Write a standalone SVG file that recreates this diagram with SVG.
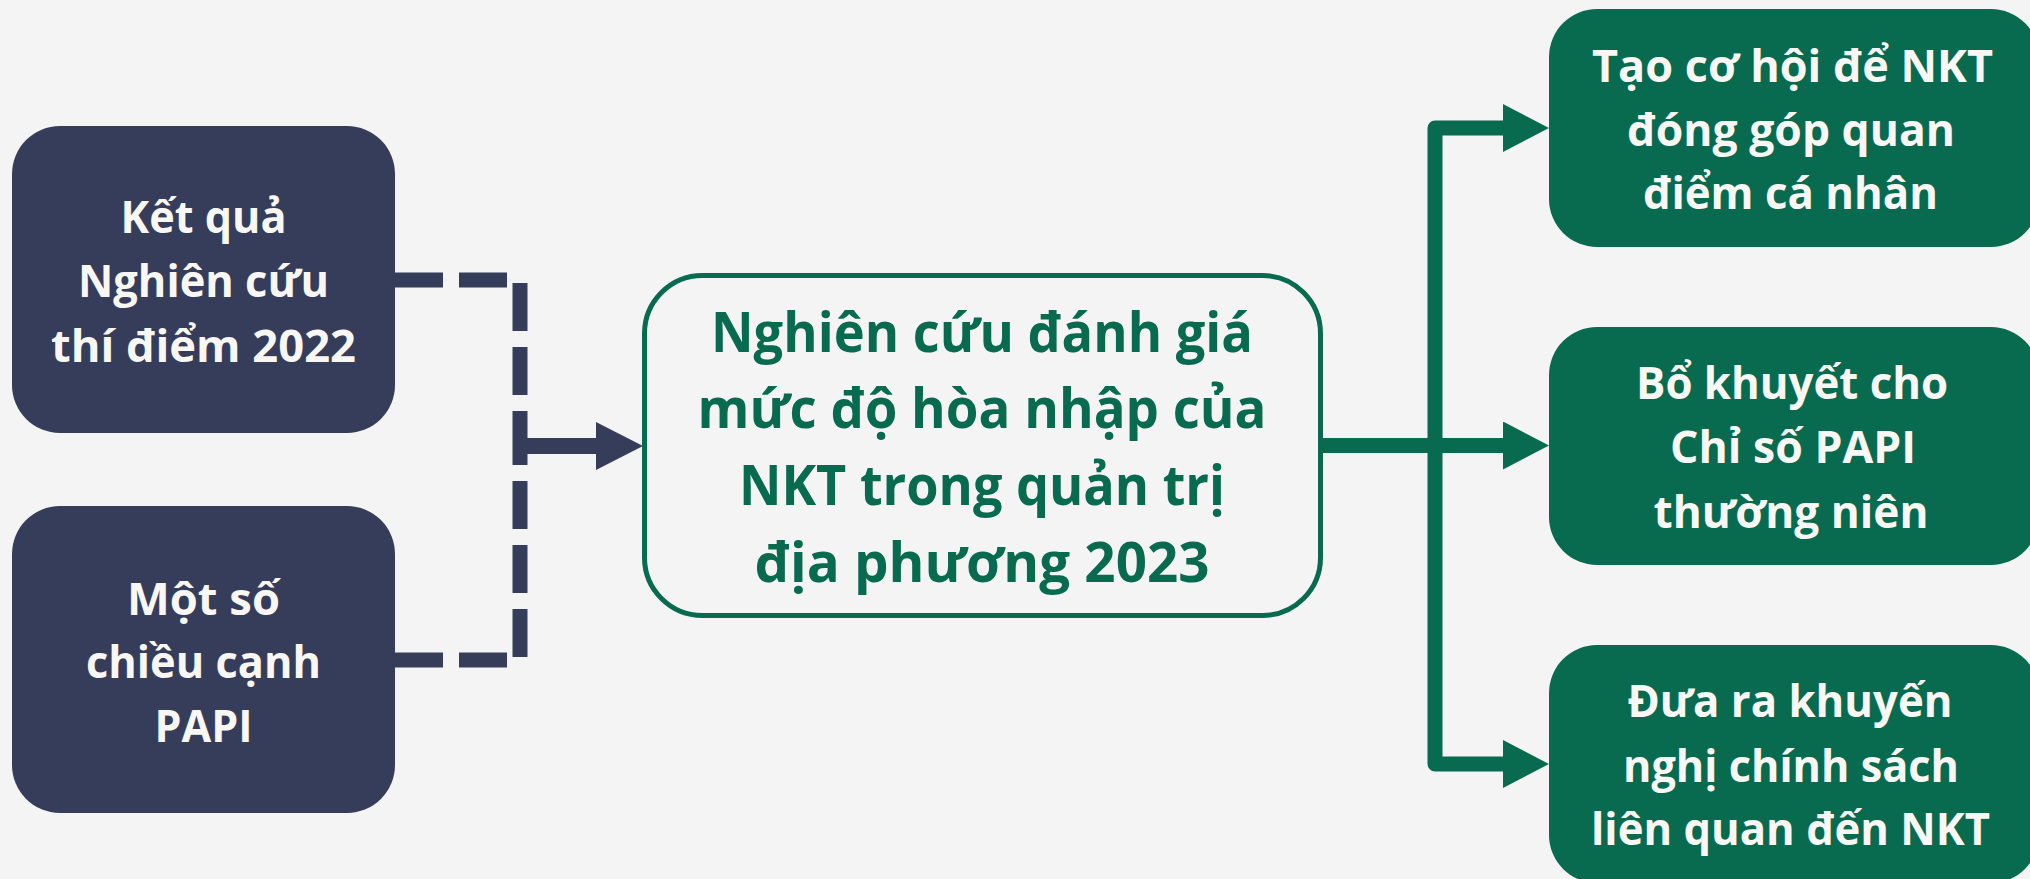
<svg xmlns="http://www.w3.org/2000/svg" width="2030" height="879" viewBox="0 0 2030 879">
  <style>
    .bg { fill: #f4f4f4; }
    .navy { fill: #363d5a; }
    .green { fill: #086b50; }
    .center { fill: #f4f4f4; stroke: #086b50; stroke-width: 5; }
    text { font-family: "Open Sans", "Noto Sans", "Liberation Sans", sans-serif; font-weight: 700; text-anchor: middle; }
    .wt { fill: #f8f7f3; font-size: 45px; }
    .gt { fill: #086b50; font-size: 56px; }
    .dash { fill: none; stroke: #363d5a; stroke-width: 15; stroke-dasharray: 48 16; stroke-linecap: butt; }
    .navyline { fill: none; stroke: #363d5a; stroke-width: 16; }
    .greenline { fill: none; stroke: #086b50; stroke-width: 15; stroke-linejoin: round; }
  </style>
  <defs>
    <marker id="arrNavy" viewBox="0 0 47 48" refX="0" refY="24" markerWidth="47" markerHeight="48" markerUnits="userSpaceOnUse" orient="auto">
      <polygon points="0,0 47,24 0,48" fill="#363d5a"/>
    </marker>
    <marker id="arrGreen" viewBox="0 0 46 48" refX="0" refY="24" markerWidth="46" markerHeight="48" markerUnits="userSpaceOnUse" orient="auto">
      <polygon points="0,0 46,24 0,48" fill="#086b50"/>
    </marker>
  </defs>
  <rect class="bg" x="0" y="0" width="2030" height="879"/>

  <g id="connectors">
    <path class="dash" d="M395,280 H520 V446"/>
    <path class="dash" d="M395,660 H520 V446"/>
    <path class="navyline" d="M520,446 H596" marker-end="url(#arrNavy)"/>
    <path class="greenline" d="M1320,445.5 H1503" marker-end="url(#arrGreen)"/>
    <path class="greenline" d="M1435,445.5 V128 H1503" marker-end="url(#arrGreen)"/>
    <path class="greenline" d="M1435,445.5 V764 H1503" marker-end="url(#arrGreen)"/>
  </g>

  <g id="node-ketqua">
    <rect class="navy" x="12" y="126" width="383" height="307" rx="48"/>
    <text class="wt" x="203.5" y="233" textLength="166" lengthAdjust="spacingAndGlyphs">Kết quả</text>
    <text class="wt" x="203.5" y="297" textLength="251" lengthAdjust="spacingAndGlyphs">Nghiên cứu</text>
    <text class="wt" x="203.5" y="362" textLength="305" lengthAdjust="spacingAndGlyphs">thí điểm 2022</text>
  </g>

  <g id="node-motso">
    <rect class="navy" x="12" y="506" width="383" height="307" rx="48"/>
    <text class="wt" x="203.5" y="615" textLength="153" lengthAdjust="spacingAndGlyphs">Một số</text>
    <text class="wt" x="203.5" y="678" textLength="235" lengthAdjust="spacingAndGlyphs">chiều cạnh</text>
    <text class="wt" x="203.5" y="742" textLength="98" lengthAdjust="spacingAndGlyphs">PAPI</text>
  </g>

  <g id="node-nghiencuu">
    <rect class="center" x="644.5" y="275.5" width="676" height="340" rx="58"/>
    <text class="gt" x="982" y="352" textLength="542" lengthAdjust="spacingAndGlyphs">Nghiên cứu đánh giá</text>
    <text class="gt" x="982" y="428" textLength="569" lengthAdjust="spacingAndGlyphs">mức độ hòa nhập của</text>
    <text class="gt" x="982" y="505" textLength="486" lengthAdjust="spacingAndGlyphs">NKT trong quản trị</text>
    <text class="gt" x="982" y="582" textLength="455" lengthAdjust="spacingAndGlyphs">địa phương 2023</text>
  </g>

  <g id="node-taocohoi">
    <rect class="green" x="1549" y="9" width="490" height="238" rx="48"/>
    <text class="wt" x="1792.5" y="82" textLength="401" lengthAdjust="spacingAndGlyphs">Tạo cơ hội để NKT</text>
    <text class="wt" x="1791" y="146" textLength="328" lengthAdjust="spacingAndGlyphs">đóng góp quan</text>
    <text class="wt" x="1790.5" y="209" textLength="295" lengthAdjust="spacingAndGlyphs">điểm cá nhân</text>
  </g>

  <g id="node-bokhuyet">
    <rect class="green" x="1549" y="327" width="490" height="238" rx="48"/>
    <text class="wt" x="1792" y="399" textLength="312" lengthAdjust="spacingAndGlyphs">Bổ khuyết cho</text>
    <text class="wt" x="1793" y="463" textLength="246" lengthAdjust="spacingAndGlyphs">Chỉ số PAPI</text>
    <text class="wt" x="1791" y="528" textLength="275" lengthAdjust="spacingAndGlyphs">thường niên</text>
  </g>

  <g id="node-duara">
    <rect class="green" x="1549" y="645" width="490" height="238" rx="48"/>
    <text class="wt" x="1790" y="717" textLength="325" lengthAdjust="spacingAndGlyphs">Đưa ra khuyến</text>
    <text class="wt" x="1791" y="782" textLength="336" lengthAdjust="spacingAndGlyphs">nghị chính sách</text>
    <text class="wt" x="1790.5" y="845" textLength="399" lengthAdjust="spacingAndGlyphs">liên quan đến NKT</text>
  </g>
</svg>
